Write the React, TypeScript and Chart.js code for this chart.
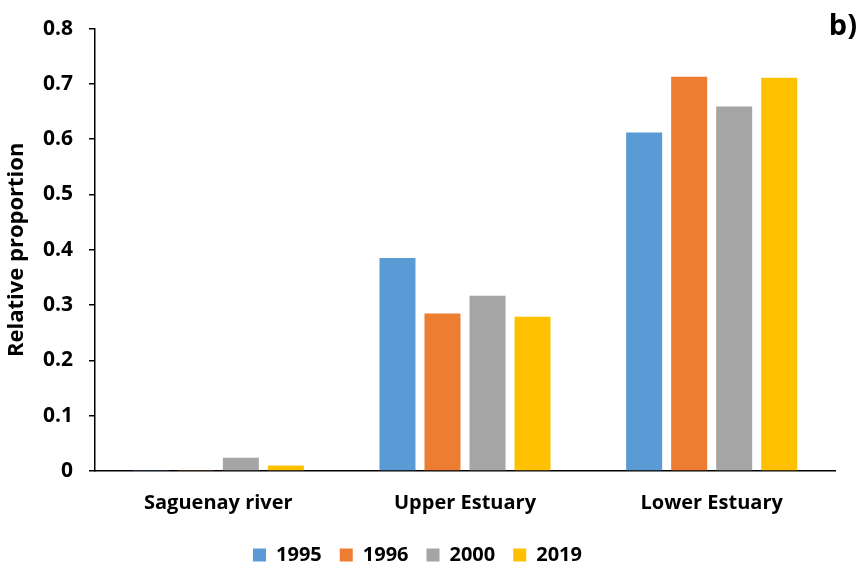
import { useEffect, useRef } from 'react';
import { Chart, registerables } from 'chart.js';

Chart.register(...registerables);

const categories = ['Saguenay river', 'Upper Estuary', 'Lower Estuary'];
const years = ['1995', '1996', '2000', '2019'];
const values1995 = [0.002, 0.385, 0.612];
const values1996 = [0.002, 0.285, 0.713];
const values2000 = [0.024, 0.317, 0.659];
const values2019 = [0.01, 0.279, 0.711];
const colors = ['#5B9BD5', '#ED7D31', '#A5A5A5', '#FFC000'];
const yTicks = [0, 0.1, 0.2, 0.3, 0.4, 0.5, 0.6, 0.7, 0.8];

const FONT = '"Open Sans"';

const panelLabel = {
  id: 'panelLabel',
  afterDraw(chart: any) {
    const ctx = chart.ctx;
    ctx.save();
    ctx.font = `bold 29px ${FONT}`;
    ctx.fillStyle = '#000';
    ctx.textAlign = 'right';
    ctx.textBaseline = 'middle';
    ctx.fillText('b)', 857, 27);
    ctx.restore();
  },
};

export default function App() {
  const canvasRef = useRef<HTMLCanvasElement | null>(null);

  useEffect(() => {
    if (!canvasRef.current) return;
    const series = [values1995, values1996, values2000, values2019];
    const chart = new Chart(canvasRef.current, {
      type: 'bar',
      data: {
        labels: categories,
        datasets: years.map((y, i) => ({
          label: y,
          data: series[i],
          backgroundColor: colors[i],
          categoryPercentage: 0.73,
          barPercentage: 0.8,
        })),
      },
      options: {
        animation: false,
        responsive: true,
        maintainAspectRatio: false,
        layout: { padding: { left: 0, right: 23, top: 28, bottom: -7 } },
        plugins: {
          tooltip: { enabled: false },
          legend: {
            position: 'bottom',
            labels: {
              boxWidth: 13,
              boxHeight: 13,
              padding: 18,
              color: '#000',
              font: { family: FONT, size: 20, weight: 'bold' },
            },
          },
        },
        scales: {
          x: {
            grid: { display: false },
            border: { display: true, color: '#000', width: 1.5 },
            ticks: {
              color: '#000',
              padding: 12,
              font: { family: FONT, size: 20, weight: 'bold' },
            },
            afterFit(scale: any) {
              scale.height = 56;
            },
          },
          y: {
            min: 0,
            max: 0.8,
            afterBuildTicks(scale: any) {
              scale.ticks = yTicks.map((v) => ({ value: v }));
            },
            grid: {
              drawOnChartArea: false,
              drawTicks: true,
              tickLength: 6,
              color: '#000',
              lineWidth: 1.5,
            },
            border: { display: true, color: '#000', width: 1.5 },
            ticks: {
              color: '#000',
              padding: 16,
              font: { family: FONT, size: 21, weight: 'bold' },
              callback: (v: any) => String(Math.round(Number(v) * 10) / 10),
            },
            title: {
              display: true,
              text: 'Relative proportion',
              color: '#000',
              font: { family: FONT, size: 22, weight: 'bold' },
              padding: { top: 4, bottom: 0 },
            },
            afterFit(scale: any) {
              scale.width = 95;
            },
          },
        },
      },
      plugins: [panelLabel],
    });
    return () => chart.destroy();
  }, []);

  return (
    <div style={{ position: 'absolute', left: 0, top: 0, width: 858, height: 568, background: '#fff' }}>
      <canvas ref={canvasRef} />
    </div>
  );
}
